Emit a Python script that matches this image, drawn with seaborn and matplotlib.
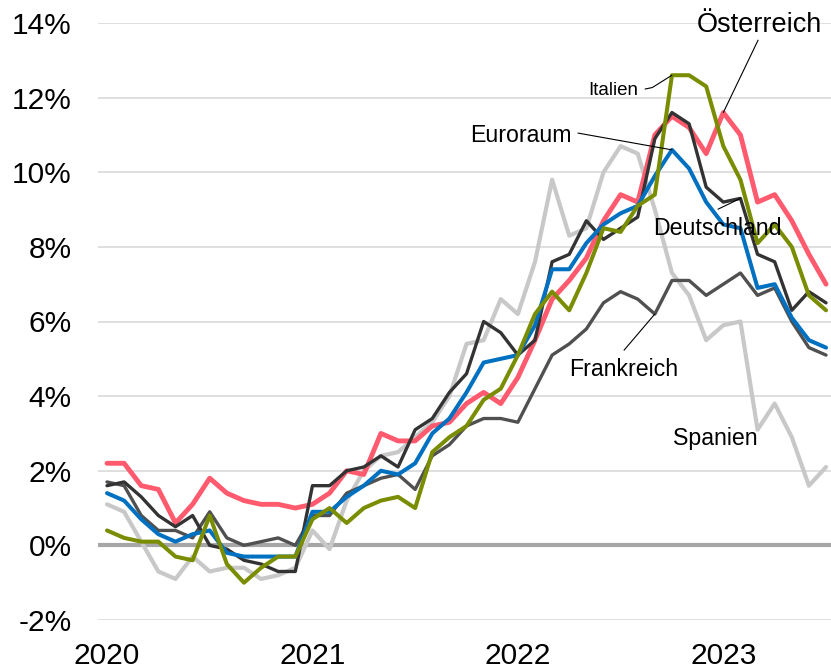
import matplotlib
matplotlib.use("Agg")
import matplotlib.pyplot as plt
import seaborn as sns


# monthly HICP inflation, Jan 2020 .. Jul 2023 (in %)
MONTHS = list(range(43))
YEAR_TICKS = [0, 12, 24, 36]
YEAR_LABELS = ["2020", "2021", "2022", "2023"]
Y_TICKS = [-2, 0, 2, 4, 6, 8, 10, 12, 14]

SPANIEN = [1.1, 0.9, 0.1, -0.7, -0.9, -0.3, -0.7, -0.6, -0.6, -0.9, -0.8, -0.6,
           0.4, -0.1, 1.2, 2.0, 2.4, 2.5, 2.9, 3.3, 4.0, 5.4, 5.5, 6.6,
           6.2, 7.6, 9.8, 8.3, 8.5, 10.0, 10.7, 10.5, 9.0, 7.3, 6.7, 5.5,
           5.9, 6.0, 3.1, 3.8, 2.9, 1.6, 2.1]
FRANKREICH = [1.7, 1.6, 0.8, 0.4, 0.4, 0.2, 0.9, 0.2, 0.0, 0.1, 0.2, 0.0,
              0.8, 0.8, 1.4, 1.6, 1.8, 1.9, 1.5, 2.4, 2.7, 3.2, 3.4, 3.4,
              3.3, 4.2, 5.1, 5.4, 5.8, 6.5, 6.8, 6.6, 6.2, 7.1, 7.1, 6.7,
              7.0, 7.3, 6.7, 6.9, 6.0, 5.3, 5.1]
OESTERREICH = [2.2, 2.2, 1.6, 1.5, 0.6, 1.1, 1.8, 1.4, 1.2, 1.1, 1.1, 1.0,
               1.1, 1.4, 2.0, 1.9, 3.0, 2.8, 2.8, 3.2, 3.3, 3.8, 4.1, 3.8,
               4.5, 5.5, 6.6, 7.1, 7.7, 8.7, 9.4, 9.2, 11.0, 11.5, 11.2, 10.5,
               11.6, 11.0, 9.2, 9.4, 8.7, 7.8, 7.0]
DEUTSCHLAND = [1.6, 1.7, 1.3, 0.8, 0.5, 0.8, 0.0, -0.1, -0.4, -0.5, -0.7, -0.7,
               1.6, 1.6, 2.0, 2.1, 2.4, 2.1, 3.1, 3.4, 4.1, 4.6, 6.0, 5.7,
               5.1, 5.5, 7.6, 7.8, 8.7, 8.2, 8.5, 8.8, 10.9, 11.6, 11.3, 9.6,
               9.2, 9.3, 7.8, 7.6, 6.3, 6.8, 6.5]
EURORAUM = [1.4, 1.2, 0.7, 0.3, 0.1, 0.3, 0.4, -0.2, -0.3, -0.3, -0.3, -0.3,
            0.9, 0.9, 1.3, 1.6, 2.0, 1.9, 2.2, 3.0, 3.4, 4.1, 4.9, 5.0,
            5.1, 5.9, 7.4, 7.4, 8.1, 8.6, 8.9, 9.1, 9.9, 10.6, 10.1, 9.2,
            8.6, 8.5, 6.9, 7.0, 6.1, 5.5, 5.3]
ITALIEN = [0.4, 0.2, 0.1, 0.1, -0.3, -0.4, 0.8, -0.5, -1.0, -0.6, -0.3, -0.3,
           0.7, 1.0, 0.6, 1.0, 1.2, 1.3, 1.0, 2.5, 2.9, 3.2, 3.9, 4.2,
           5.1, 6.2, 6.8, 6.3, 7.3, 8.5, 8.4, 9.1, 9.4, 12.6, 12.6, 12.3,
           10.7, 9.8, 8.1, 8.6, 8.0, 6.7, 6.3]

# drawing order: first one ends up at the bottom
SERIES = [
    ("Spanien", SPANIEN, "#C8C8C8", 3.0),
    ("Frankreich", FRANKREICH, "#505050", 2.4),
    ("Österreich", OESTERREICH, "#FF5A6E", 3.5),
    ("Deutschland", DEUTSCHLAND, "#333333", 2.4),
    ("Euroraum", EURORAUM, "#0070C0", 2.9),
    ("Italien", ITALIEN, "#7A8C00", 2.9),
]

# label text: (x, baseline y, font size), leader line points
LABELS = {
    "Österreich": ((38.1, 13.75, 19.5), [(38.03, 13.54), (36, 11.6)]),
    "Italien": ((29.56, 12.06, 13.5), [(31.43, 12.23), (31.85, 12.27), (33, 12.6)]),
    "Euroraum": ((24.18, 10.8, 16.7), [(27.51, 11.05), (33, 10.6)]),
    "Deutschland": ((35.63, 8.31, 16.7), [(35.69, 9.01), (37, 9.3)]),
    "Frankreich": ((30.2, 4.53, 16.7), [(30.2, 5.23), (32, 6.2)]),
    "Spanien": ((35.54, 2.68, 16.7), []),
}


def main() -> None:
    sns.set_theme(style="white")
    plt.rcParams["font.family"] = ["Liberation Sans", "DejaVu Sans"]

    fig = plt.figure(figsize=(8.31, 6.70), dpi=100)
    ax = fig.add_axes([98 / 831, 50 / 670, 733 / 831, 597 / 670])

    ax.axhline(0, color="#A6A6A6", lw=3, zorder=1.5)
    for i, (name, values, color, lw) in enumerate(SERIES):
        sns.lineplot(x=MONTHS, y=values, color=color, lw=lw, ax=ax, zorder=2 + i)

    for name, ((tx, ty, size), pts) in LABELS.items():
        ax.text(tx, ty, name, ha="center", va="baseline", fontsize=size,
                color="black", zorder=20, clip_on=False)
        if pts:
            ax.plot([p[0] for p in pts], [p[1] for p in pts], color="black",
                    lw=0.8, zorder=19)

    ax.set_xlim(-0.526, 42.29)
    ax.set_ylim(-2, 14)
    ax.set_yticks(Y_TICKS)
    ax.set_yticklabels([f"{v}%" for v in Y_TICKS])
    ax.set_xticks(YEAR_TICKS)
    ax.set_xticklabels(YEAR_LABELS)
    ax.yaxis.grid(True, color="#D9D9D9", lw=1.2)
    ax.xaxis.grid(False)
    ax.set_axisbelow(True)
    for spine in ax.spines.values():
        spine.set_visible(False)
    ax.tick_params(axis="y", length=0, pad=19, labelsize=21.5, labelcolor="black")
    ax.tick_params(axis="x", length=0, pad=15.5, labelsize=21.5, labelcolor="black")
    ax.set_xlabel("")
    ax.set_ylabel("")

    fig.savefig("out.png", dpi=100)
    plt.close(fig)


if __name__ == "__main__":
    main()
